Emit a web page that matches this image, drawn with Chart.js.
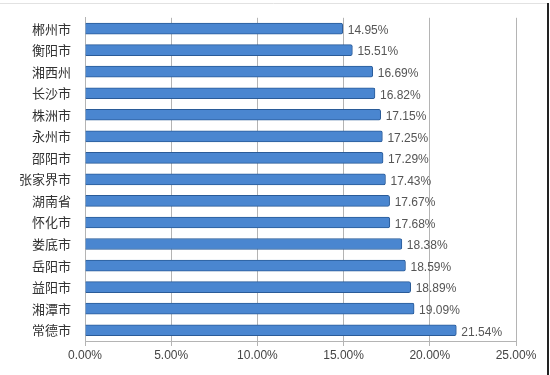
<!DOCTYPE html>
<html lang="zh">
<head>
<meta charset="utf-8" />
<title>湖南各市州比例</title>
<style>
  body { margin: 0; background: #fff; }
  #wrap { width: 550px; height: 375px; position: relative; }
</style>
</head>
<body>
<div id="wrap"><canvas id="chart" width="550" height="375"></canvas></div>
<script src="https://cdn.jsdelivr.net/npm/chart.js@4.4.1/dist/chart.umd.min.js"></script>
<script>
const cities = ["郴州市", "衡阳市", "湘西州", "长沙市", "株洲市", "永州市", "邵阳市", "张家界市",
  "湖南省", "怀化市", "娄底市", "岳阳市", "益阳市", "湘潭市", "常德市"];
const rates = [14.95, 15.51, 16.69, 16.82, 17.15, 17.25, 17.29, 17.43,
  17.67, 17.68, 18.38, 18.59, 18.89, 19.09, 21.54];
const xTicks = [0, 5, 10, 15, 20, 25];

// value labels right of each bar
const barLabels = {
  id: "barLabels",
  afterDatasetsDraw(chart) {
    const ctx = chart.ctx;
    const meta = chart.getDatasetMeta(0);
    ctx.save();
    ctx.font = "12px 'Liberation Sans', sans-serif";
    ctx.fillStyle = "#555";
    ctx.textBaseline = "middle";
    meta.data.forEach(function (bar, i) {
      ctx.fillText(rates[i].toFixed(2) + "%", bar.x + 5, bar.y + 2);
    });
    ctx.restore();
  }
};

// outer frame of the picture
const frame = {
  id: "frame",
  beforeDraw(chart) {
    const ctx = chart.ctx;
    ctx.save();
    ctx.strokeStyle = "#e2e2e2";
    ctx.lineWidth = 1;
    ctx.beginPath();
    ctx.moveTo(0, 3.5);
    ctx.lineTo(547, 3.5);
    ctx.stroke();
    ctx.strokeStyle = "#222";
    ctx.lineWidth = 2;
    ctx.beginPath();
    ctx.moveTo(548, 3);
    ctx.lineTo(548, 375);
    ctx.stroke();
    ctx.restore();
  }
};

function barFill(context) {
  const el = context.element;
  if (!el || el.y === undefined) return "#4a86d0";
  const c = context.chart.ctx;
  const g = c.createLinearGradient(0, el.y - 5, 0, el.y + 5);
  g.addColorStop(0, "#80b3ea");
  g.addColorStop(0.45, "#4a88d2");
  g.addColorStop(1, "#2c63a8");
  return g;
}

new Chart(document.getElementById("chart"), {
  type: "bar",
  data: {
    labels: cities,
    datasets: [{
      data: rates,
      backgroundColor: barFill,
      borderColor: "#2a5b98",
      borderWidth: 1,
      borderSkipped: "left",
      borderRadius: 2,
      barThickness: 11
    }]
  },
  options: {
    indexAxis: "y",
    responsive: false,
    animation: false,
    layout: { padding: { top: 11, right: 34, left: 0, bottom: 0 } },
    plugins: { legend: { display: false }, tooltip: { enabled: false } },
    scales: {
      x: {
        min: 0,
        max: 25,
        afterBuildTicks(scale) { scale.ticks = xTicks.map(v => ({ value: v })); },
        afterFit(scale) { scale.height = 34; },
        grid: { color: "#b4b4b4", drawTicks: true, tickLength: 5, tickColor: "#b4b4b4" },
        border: { color: "#b4b4b4" },
        ticks: {
          color: "#444",
          font: { size: 12, family: "'Liberation Sans', sans-serif" },
          padding: 2,
          callback: v => v.toFixed(2) + "%"
        }
      },
      y: {
        afterFit(scale) { scale.width = 85; },
        grid: { display: false, drawOnChartArea: false, tickLength: 4, tickColor: "#b4b4b4" },
        border: { color: "#b4b4b4" },
        ticks: {
          color: "#333",
          font: { size: 13, family: "'Noto Sans CJK SC', sans-serif" },
          padding: 10,
          autoSkip: false
        }
      }
    }
  },
  plugins: [frame, barLabels]
});
</script>
</body>
</html>
